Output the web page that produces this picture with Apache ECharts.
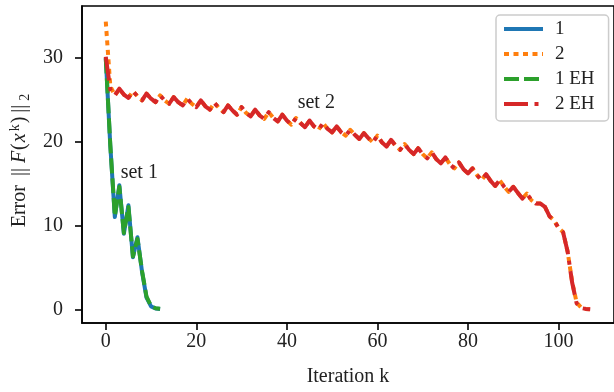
<!DOCTYPE html>
<html>
<head>
<meta charset="utf-8">
<script src="https://cdn.jsdelivr.net/npm/echarts@6/dist/echarts.min.js"></script>
<style>
html,body{margin:0;padding:0;background:#fff;}
#c{width:614px;height:392px;}
</style>
</head>
<body>
<div id="c"></div>
<script>
// ---- data ----
const set1Iter = [0,1,2,3,4,5,6,7,8,9,10,11,12];
const err1   = [30.0,19.5,11.0,14.8,9.0,12.4,6.2,8.6,4.5,1.4,0.35,0.1,0.05];
const err1EH = [29.9,19.6,11.1,14.6,9.1,12.2,6.3,8.4,4.6,1.5,0.4,0.12,0.06];

const set2Iter = Array.from({length:108},(_,i)=>i);
const err2EH = [30.1,26.2,25.5,26.3,25.6,25.2,26.0,25.4,24.9,25.7,
 25.1,24.7,25.5,24.9,24.5,25.3,24.7,24.3,25.1,24.5,
 24.1,24.9,24.2,23.8,24.6,24.0,23.5,24.3,23.7,23.2,
 24.1,23.4,23.0,23.8,23.1,22.7,23.5,22.8,22.4,23.2,
 22.5,22.0,22.8,22.2,21.7,22.5,21.8,21.4,22.2,21.5,
 21.1,21.8,21.1,20.7,21.4,20.8,20.3,21.0,20.4,19.9,
 20.7,19.9,19.4,20.2,19.5,19.0,19.7,19.0,18.5,19.2,
 18.5,18.0,18.7,17.9,17.4,18.1,17.3,16.8,17.5,16.7,
 16.2,16.8,16.0,15.4,16.1,15.3,14.7,15.4,14.6,14.0,
 14.6,13.9,13.2,13.8,13.0,12.6,12.6,12.2,11.1,10.6,
 9.7,9.2,6.9,3.2,0.7,0.15,0.05,0.0];
const err2 = [34.3,26.6,25.5,26.2,25.6,25.2,26.0,25.4,24.9,25.7,
 25.1,24.7,25.5,24.9,24.5,25.3,24.7,24.3,25.1,24.5,
 24.1,24.9,24.2,23.8,24.6,24.0,23.5,24.3,23.7,23.2,
 24.1,23.4,23.0,23.8,23.1,22.7,23.5,22.8,22.4,23.2,
 22.5,22.0,22.8,22.2,21.7,22.5,21.8,21.4,22.2,21.5,
 21.1,21.8,21.1,20.7,21.4,20.8,20.3,21.0,20.4,19.9,
 20.7,19.9,19.4,20.2,19.5,19.0,19.7,19.0,18.5,19.2,
 18.5,18.0,18.7,17.9,17.4,18.1,17.3,16.8,17.5,16.7,
 16.2,16.8,16.0,15.4,16.1,15.3,14.7,15.4,14.6,14.0,
 14.6,13.9,13.2,13.8,13.0,12.6,12.6,12.2,11.1,10.6,
 9.7,9.2,6.9,3.3,0.8,0.2,0.05,0.0];

const seriesNames = ['1','2','1 EH','2 EH'];
const xTicks = [0,20,40,60,80,100];
const yTicks = [0,10,20,30];
const annotations = [{text:'set 1', k:7.4, v:16.3},{text:'set 2', k:46.5, v:24.6}];

// ---- chart ----
const FONT = '"Liberation Serif","DejaVu Serif",serif';
const TXT = '#222';
const pair = (xs, ys) => xs.map((x,i)=>[x, ys[i]]);
const chart = echarts.init(document.getElementById('c'), null, {renderer:'canvas'});

function lineSeries(name, data, color, type){
  return {
    name, type:'line', data, showSymbol:false, symbol:'none',
    lineStyle:{color, width:4, type, cap:'butt', join:'round'},
    itemStyle:{color},
    emphasis:{disabled:true}, animation:false
  };
}

const option = {
  animation:false,
  grid:{left:81, top:6, width:536, height:317, show:true, borderColor:'#000', borderWidth:1.6, backgroundColor:'transparent'},
  xAxis:{
    type:'value', min:-5.25, max:112.25,
    name:'Iteration k', nameLocation:'middle', nameGap:44,
    nameTextStyle:{fontFamily:FONT, fontSize:20, color:TXT},
    axisLine:{show:true, onZero:false, lineStyle:{color:'#000', width:1.6}},
    axisTick:{show:true, length:7, lineStyle:{color:'#000', width:1.6}, customValues:xTicks},
    axisLabel:{fontFamily:FONT, fontSize:20, color:TXT, margin:9, customValues:xTicks},
    splitLine:{show:false}
  },
  yAxis:{
    type:'value', min:-1.63, max:36.15,
    name:'Error {b|||}{i|F}({i|x}{sup|k}){b|||}{sub|2}', nameLocation:'middle', nameGap:50, nameRotate:90,
    nameTextStyle:{fontFamily:FONT, fontSize:20, color:TXT, padding:[0,0,0,8],
      rich:{b:{fontFamily:FONT, fontSize:20, color:TXT, padding:[0,4,0,4]},
            i:{fontFamily:FONT, fontStyle:'italic', fontSize:20, color:TXT, padding:[0,1,0,1]},
            sup:{fontFamily:FONT, fontSize:14, color:TXT, verticalAlign:'top', padding:[0,1,10,1]},
            sub:{fontFamily:FONT, fontSize:14, color:TXT, padding:[10,0,0,0]}}},
    axisLine:{show:true, onZero:false, lineStyle:{color:'#000', width:1.6}},
    axisTick:{show:true, length:7, lineStyle:{color:'#000', width:1.6}, customValues:yTicks},
    axisLabel:{fontFamily:FONT, fontSize:20, color:TXT, margin:19, customValues:yTicks},
    splitLine:{show:false}
  },
  legend:{
    data:seriesNames, orient:'vertical', left:496, top:15,
    padding:[4,14,7,6], itemGap:5, itemWidth:39, itemHeight:16,
    backgroundColor:'#fff', borderColor:'#cccccc', borderWidth:1.5, borderRadius:4,
    itemStyle:{opacity:0, borderWidth:0},
    lineStyle:{width:4},
    textStyle:{fontFamily:FONT, fontSize:19, color:TXT, padding:[0,0,0,7], lineHeight:20},
    selectedMode:false
  },
  series:[
    lineSeries('1', pair(set1Iter, err1), '#1f77b4', 'solid'),
    lineSeries('2', pair(set2Iter, err2), '#ff7f0e', [5,4.5]),
    lineSeries('1 EH', pair(set1Iter, err1EH), '#2ca02c', [15,5]),
    lineSeries('2 EH', pair(set2Iter, err2EH), '#d62728', [24,6.5,4,6.5])
  ]
};
chart.setOption(option);
chart.setOption({
  graphic: annotations.map(a=>{
    const p = chart.convertToPixel({gridIndex:0}, [a.k, a.v]);
    return {type:'text', x:p[0], y:p[1], style:{text:a.text, font:'20px '+FONT, fill:TXT, align:'center', verticalAlign:'middle'}};
  })
});
</script>
</body>
</html>
